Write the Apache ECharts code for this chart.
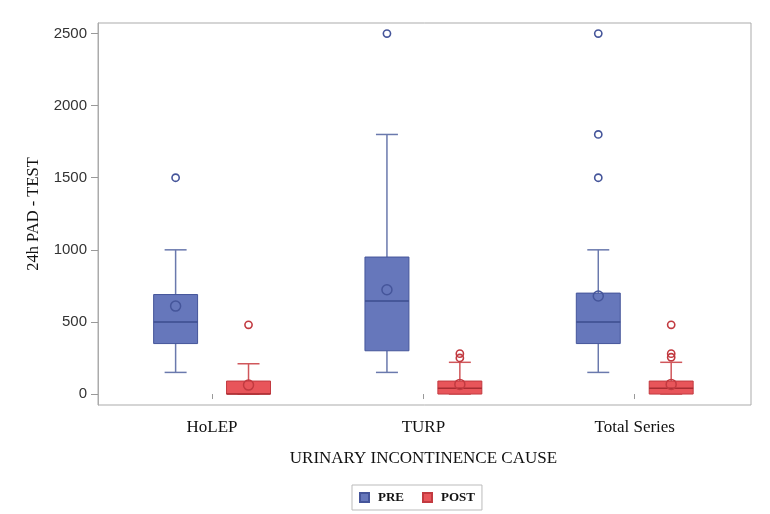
<!DOCTYPE html>
<html><head><meta charset="utf-8">
<script src="https://cdn.jsdelivr.net/npm/echarts@6/dist/echarts.min.js"></script>
<style>html,body{margin:0;padding:0;background:#fff}#c{width:770px;height:514px}</style>
</head><body><div id="c"></div>
<script>
// ---- data ----
const categories = ['HoLEP', 'TURP', 'Total Series'];
// [min whisker, Q1, median, Q3, max whisker]
const preBoxes = [[150, 350, 500, 690, 1000], [150, 300, 645, 950, 1800], [150, 350, 500, 700, 1000]];
const postBoxes = [[0, 0, 0, 90, 210], [0, 0, 40, 90, 220], [0, 0, 40, 90, 220]];
const preMeans = [610, 723, 680];
const postMeans = [62, 67, 67];
// [category index, value]
const preOutliers = [[0, 1500], [1, 2500], [2, 1500], [2, 1800], [2, 2500]];
const postOutliers = [[0, 480], [1, 250], [1, 280], [2, 255], [2, 280], [2, 480]];
const yTicks = [0, 500, 1000, 1500, 2000, 2500];

const Y_MIN = -76, Y_MAX = 2573;
const PRE_C = {fill: '#6677bb', stroke: '#45559a', whisker: '#6a79ad', median: '#3c4c8e'};
const POST_C = {fill: '#e8555a', stroke: '#c23a40', whisker: '#d0575b', median: '#a82c32'};
const PRE_OFF = -0.1725, POST_OFF = 0.1725;

function boxData(boxes, means) {
  return boxes.map((b, i) => [i, b[0], b[1], b[2], b[3], b[4], means[i]]);
}

function makeBoxRender(offFrac, c) {
  return function (params, api) {
    const band = api.size([1, 0])[0];
    const cat = api.value(0);
    const cx = api.coord([cat, 0])[0] + band * offFrac;
    const y = i => api.coord([cat, api.value(i)])[1];
    const yMin = y(1), yQ1 = y(2), yMed = y(3), yQ3 = y(4), yMax = y(5), yMean = y(6);
    const hw = band * 0.104, cap = band * 0.052;
    const ls = () => ({stroke: c.whisker, lineWidth: 1.5});
    return {type: 'group', children: [
      {type: 'line', shape: {x1: cx, y1: yQ3, x2: cx, y2: yMax}, style: ls()},
      {type: 'line', shape: {x1: cx, y1: yQ1, x2: cx, y2: yMin}, style: ls()},
      {type: 'line', shape: {x1: cx - cap, y1: yMax, x2: cx + cap, y2: yMax}, style: ls()},
      {type: 'line', shape: {x1: cx - cap, y1: yMin, x2: cx + cap, y2: yMin}, style: ls()},
      {type: 'rect', shape: {x: cx - hw, y: yQ3, width: hw * 2, height: yQ1 - yQ3},
        style: {fill: c.fill, stroke: c.stroke, lineWidth: 1}},
      {type: 'line', shape: {x1: cx - hw, y1: yMed, x2: cx + hw, y2: yMed}, style: {stroke: c.median, lineWidth: 1.5}},
      {type: 'circle', shape: {cx: cx, cy: yMean, r: 5}, style: {fill: 'none', stroke: c.stroke, lineWidth: 1.5}}
    ]};
  };
}

function makeOutlierRender(offFrac, c) {
  return function (params, api) {
    const band = api.size([1, 0])[0];
    const p = api.coord([api.value(0), api.value(1)]);
    return {type: 'circle', shape: {cx: p[0] + band * offFrac, cy: p[1], r: 3.6},
      style: {fill: 'none', stroke: c.stroke, lineWidth: 1.6}};
  };
}

const chart = echarts.init(document.getElementById('c'));
chart.setOption({
  animation: false,
  backgroundColor: '#fff',
  grid: [
    {left: 98, top: 23, width: 653, height: 382, show: true, borderColor: '#ababab', borderWidth: 1, backgroundColor: 'transparent'},
    {left: 106.4, top: 23, width: 634, height: 382}
  ],
  xAxis: [
    {type: 'value', gridIndex: 0, show: false, min: 0, max: 1},
    {type: 'category', gridIndex: 1, data: categories,
      axisLine: {show: false},
      axisTick: {show: true, alignWithLabel: true, length: 5, lineStyle: {color: '#999'}},
      axisLabel: {margin: 14, fontFamily: 'Liberation Serif', fontSize: 17, color: '#111'},
      name: 'URINARY INCONTINENCE CAUSE', nameLocation: 'middle', nameGap: 45,
      nameTextStyle: {fontFamily: 'Liberation Serif', fontSize: 17, color: '#111'}}
  ],
  yAxis: [
    {type: 'value', gridIndex: 0, min: Y_MIN, max: Y_MAX,
      axisLine: {show: true, lineStyle: {color: '#ababab'}},
      axisTick: {show: true, customValues: yTicks, length: 7, lineStyle: {color: '#999'}},
      axisLabel: {customValues: yTicks, margin: 11, fontFamily: 'Liberation Sans', fontSize: 15, color: '#333',
        formatter: v => String(v)},
      splitLine: {show: false},
      name: '24h PAD - TEST', nameLocation: 'middle', nameGap: 56, nameRotate: 90,
      nameTextStyle: {fontFamily: 'Liberation Serif', fontSize: 16.5, color: '#111'}},
    {type: 'value', gridIndex: 1, min: Y_MIN, max: Y_MAX, show: false, splitLine: {show: false}}
  ],
  legend: {
    data: ['PRE', 'POST'], left: 352, top: 485, icon: 'rect',
    itemWidth: 9, itemHeight: 9, itemGap: 18,
    borderColor: '#bbb', borderWidth: 1, padding: [6, 7],
    textStyle: {fontFamily: 'Liberation Serif', fontSize: 13, fontWeight: 'bold', color: '#111', padding: [0, 0, 0, 4]}
  },
  series: [
    {name: 'PRE', type: 'custom', xAxisIndex: 1, yAxisIndex: 1, clip: false,
      itemStyle: {color: PRE_C.fill, borderColor: PRE_C.stroke, borderWidth: 1},
      encode: {x: 0, y: [1, 2, 3, 4, 5, 6]}, data: boxData(preBoxes, preMeans),
      renderItem: makeBoxRender(PRE_OFF, PRE_C)},
    {name: 'POST', type: 'custom', xAxisIndex: 1, yAxisIndex: 1, clip: false,
      itemStyle: {color: POST_C.fill, borderColor: POST_C.stroke, borderWidth: 1},
      encode: {x: 0, y: [1, 2, 3, 4, 5, 6]}, data: boxData(postBoxes, postMeans),
      renderItem: makeBoxRender(POST_OFF, POST_C)},
    {name: 'PRE', type: 'custom', xAxisIndex: 1, yAxisIndex: 1, clip: false,
      itemStyle: {color: PRE_C.fill},
      encode: {x: 0, y: 1}, data: preOutliers, renderItem: makeOutlierRender(PRE_OFF, PRE_C)},
    {name: 'POST', type: 'custom', xAxisIndex: 1, yAxisIndex: 1, clip: false,
      itemStyle: {color: POST_C.fill},
      encode: {x: 0, y: 1}, data: postOutliers, renderItem: makeOutlierRender(POST_OFF, POST_C)}
  ]
});
</script></body></html>
